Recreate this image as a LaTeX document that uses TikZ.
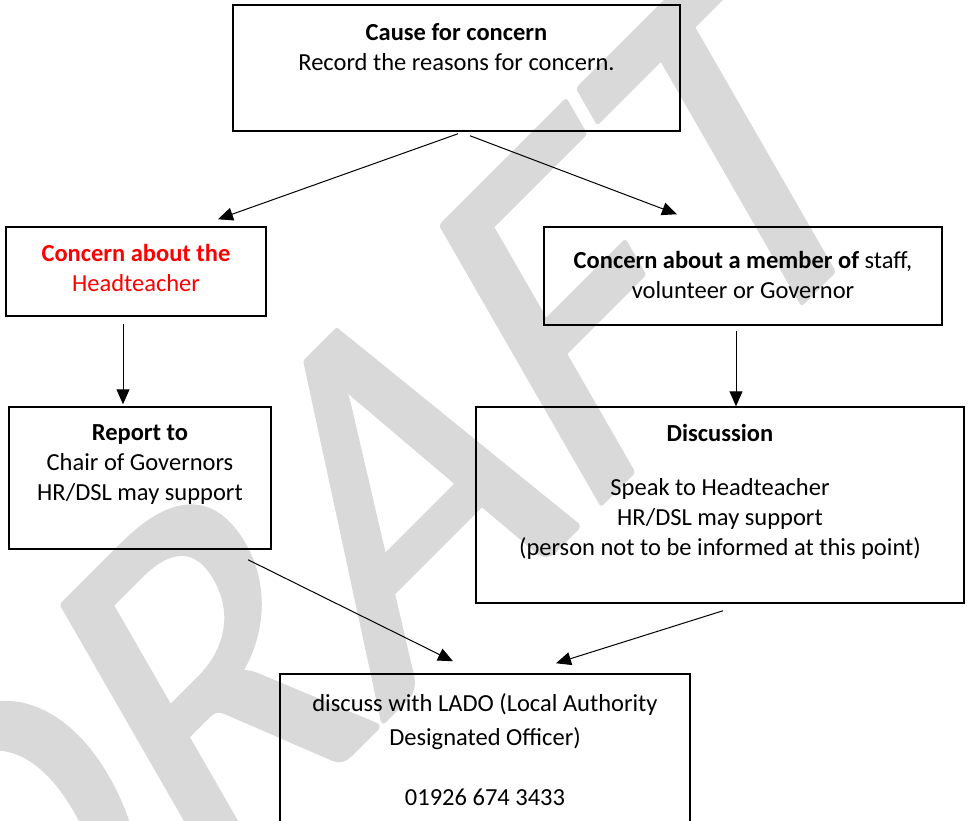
\documentclass[tikz,border=0pt]{standalone}
\usepackage{fontspec}
\setmainfont{Carlito}
\usetikzlibrary{arrows.meta}
\tikzset{
  box/.style={draw, line width=1.5pt, inner sep=0pt},
  txt/.style={align=center, inner sep=0pt, anchor=north, font=\fontsize{24.5}{30}\selectfont},
  arr/.style={-{Triangle[length=15pt,width=13pt]}, line width=1pt},
}
\begin{document}
\begin{tikzpicture}[x=1pt,y=-1pt]
\useasboundingbox (0,0) rectangle (970,821);
\begin{scope}
\clip (0,0) rectangle (970,821);
\node[rotate=45, xslant=0.27, inner sep=0pt, text=black!15] (wm) at (365,521) {\fontsize{480}{480}\selectfont\special{pdf:literal direct 2 Tr 6 w 1 j}DRAFT\special{pdf:literal direct 0 Tr}};
\end{scope}

\node[box, minimum width=447, minimum height=126] (cause) at (456.5,68) {};
\node[box, minimum width=260, minimum height=89] (head) at (136,271.5) {};
\node[box, minimum width=398, minimum height=98] (member) at (743,276) {};
\node[box, minimum width=262, minimum height=142] (report) at (140,478) {};
\node[box, minimum width=488, minimum height=196] (discuss) at (720,505) {};
\node[box, minimum width=410, minimum height=170] (lado) at (485,759) {};

\node[txt] (causetxt) at ([yshift=-19pt]cause.north) {\textbf{Cause for concern}\\Record the reasons for concern.};
\node[txt, text=red] (headtxt) at ([yshift=-18pt]head.north) {\textbf{Concern about the}\\Headteacher};
\node[txt] (membertxt) at ([yshift=-25pt]member.north) {\textbf{Concern about a member of} staff,\\volunteer or Governor};
\node[txt] (reporttxt) at ([yshift=-18pt]report.north) {\textbf{Report to}\\Chair of Governors\\HR/DSL may support};
\node[txt] (discusstxt) at ([yshift=-18pt]discuss.north) {\textbf{Discussion}\\[24pt]Speak to Headteacher\\HR/DSL may support\\(person not to be informed at this point)};
\node[txt] (ladotxt) at ([yshift=-20pt]lado.north) {discuss with LADO (Local Authority\\[4pt]Designated Officer)\\[30pt]01926 674 3433};

\draw[arr] ([xshift=1.5pt,yshift=-2pt]cause.south) -- ([xshift=82pt,yshift=7pt]head.north);
\draw[arr] ([xshift=13.5pt,yshift=-4pt]cause.south) -- ([xshift=-66pt,yshift=12pt]member.north);
\draw[arr] ([xshift=-13pt,yshift=-7pt]head.south) -- ([xshift=-17pt,yshift=2pt]report.north);
\draw[arr] ([xshift=-7pt,yshift=-5pt]member.south) -- ([xshift=16pt]discuss.north);
\draw[arr] ([xshift=108pt,yshift=-10pt]report.south) -- ([xshift=-32pt,yshift=12pt]lado.north);
\draw[arr] ([xshift=3pt,yshift=-7pt]discuss.south) -- ([xshift=71pt,yshift=10pt]lado.north);
\end{tikzpicture}
\end{document}
